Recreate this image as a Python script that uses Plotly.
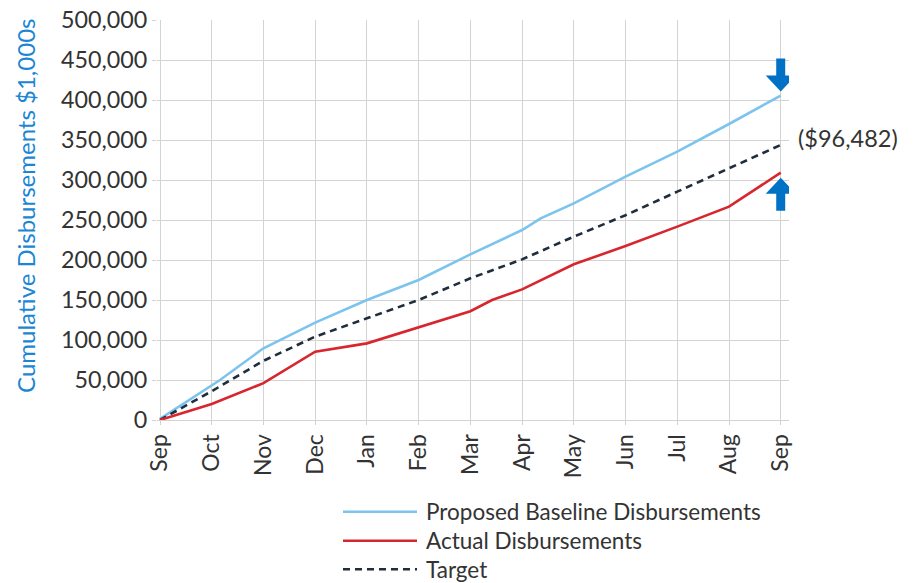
import plotly.graph_objects as go

# ---- data ----
months = ["Sep", "Oct", "Nov", "Dec", "Jan", "Feb", "Mar", "Apr", "May", "Jun", "Jul", "Aug", "Sep"]
month_idx = list(range(len(months)))

baseline_x = [0, 1, 1.16, 2, 3, 4, 5, 6, 7, 7.36, 8, 9, 10, 11, 12]
baseline_y = [1500, 43000, 50000, 89600, 121700, 150000, 175000, 207000, 237500, 252000,
              270800, 304200, 335400, 370000, 405600]

actual_x = [0, 1, 2, 3, 4, 5, 6, 6.42, 7, 8, 9, 10, 11, 12]
actual_y = [0, 20000, 46000, 85400, 95800, 115800, 136000, 150000, 163300, 194600,
            217500, 241700, 266700, 309118]

target_x = month_idx
target_y = [0, 36000, 74000, 104200, 127100, 150000, 177100, 200800, 229200, 256000,
            285400, 314600, 343750]

gap_label = "($96,482)"
y_title = "Cumulative Disbursements $1,000s"
y_ticks = [0, 50000, 100000, 150000, 200000, 250000, 300000, 350000, 400000, 450000, 500000]

# ---- styles ----
FONT = "Lato"
C_BASE = "#7cc4ee"
C_ACT = "#d7262e"
C_TGT = "#1f2d3d"
C_ARROW = "#0072c6"
C_TEXT = "#333333"
C_GRID = "#d3d3d3"
DASH = "7px,5px"

fig = go.Figure()
fig.add_trace(go.Scatter(x=baseline_x, y=baseline_y, mode="lines", name="Proposed Baseline Disbursements",
                         line=dict(color=C_BASE, width=2.6), showlegend=False))
fig.add_trace(go.Scatter(x=target_x, y=target_y, mode="lines", name="Target",
                         line=dict(color=C_TGT, width=2.6, dash=DASH), showlegend=False))
fig.add_trace(go.Scatter(x=actual_x, y=actual_y, mode="lines", name="Actual Disbursements",
                         line=dict(color=C_ACT, width=2.6), showlegend=False))

# arrows anchored at the series end values
down_path = "M 0,4 L -15,20 L -4.5,20 L -4.5,37 L 4.5,37 L 4.5,20 L 15,20 Z"
up_path = "M 0,-5 L -15,-21 L -4.5,-21 L -4.5,-38 L 4.5,-38 L 4.5,-21 L 15,-21 Z"
fig.add_shape(type="path", xref="x", yref="y", xsizemode="pixel", ysizemode="pixel",
              xanchor=baseline_x[-1], yanchor=baseline_y[-1], path=down_path,
              fillcolor=C_ARROW, line=dict(width=0))
fig.add_shape(type="path", xref="x", yref="y", xsizemode="pixel", ysizemode="pixel",
              xanchor=actual_x[-1], yanchor=actual_y[-1], path=up_path,
              fillcolor=C_ARROW, line=dict(width=0))

fig.add_annotation(x=target_x[-1], y=target_y[-1], xref="x", yref="y", text=gap_label,
                   showarrow=False, xanchor="left", yanchor="middle", xshift=15, yshift=7,
                   font=dict(family=FONT, size=23.5, color=C_TEXT))

# y-axis title
fig.add_annotation(x=-0.209, y=0.535, xref="paper", yref="paper", text=y_title, textangle=-90,
                   showarrow=False, xanchor="center", yanchor="middle",
                   font=dict(family=FONT, size=24, color="#1a86d4"))

# manual legend
legend_items = [("Proposed Baseline Disbursements", C_BASE, "solid"),
                ("Actual Disbursements", C_ACT, "solid"),
                ("Target", C_TGT, DASH)]
legend_y = [-0.2293, -0.3018, -0.3733]
for (lab, col, dsh), ly in zip(legend_items, legend_y):
    fig.add_shape(type="line", xref="paper", yref="paper", x0=0.2943, x1=0.4114, y0=ly, y1=ly,
                  line=dict(color=col, width=2.6, dash=dsh))
    fig.add_annotation(x=0.4225, y=ly, xref="paper", yref="paper", text=lab, showarrow=False,
                       xanchor="left", yanchor="middle",
                       font=dict(family=FONT, size=22.5, color=C_TEXT))

fig.update_layout(
    width=906, height=575,
    margin=dict(l=149, r=125, t=12, b=163),
    paper_bgcolor="white", plot_bgcolor="white",
    font=dict(family=FONT, size=23, color=C_TEXT),
    showlegend=False,
)
fig.update_xaxes(range=[-0.058, 12.16], tickmode="array", tickvals=month_idx, ticktext=months,
                 tickangle=-90, showgrid=True, gridcolor=C_GRID, gridwidth=1,
                 ticks="outside", ticklen=4, tickcolor=C_GRID, zeroline=False, automargin=False,
                 showline=True, linecolor=C_GRID, tickfont=dict(size=23, color=C_TEXT))
fig.update_yaxes(range=[0, 500000], tickmode="array", tickvals=y_ticks, tickformat=",d",
                 showgrid=True, gridcolor=C_GRID, gridwidth=1, ticks="outside", ticklen=4,
                 tickcolor=C_GRID, zeroline=False, showline=False, ticklabelstandoff=0,
                 ticklabeloverflow="allow", automargin=False,
                 tickfont=dict(size=23.3, color=C_TEXT))

fig.write_html("out.html")
